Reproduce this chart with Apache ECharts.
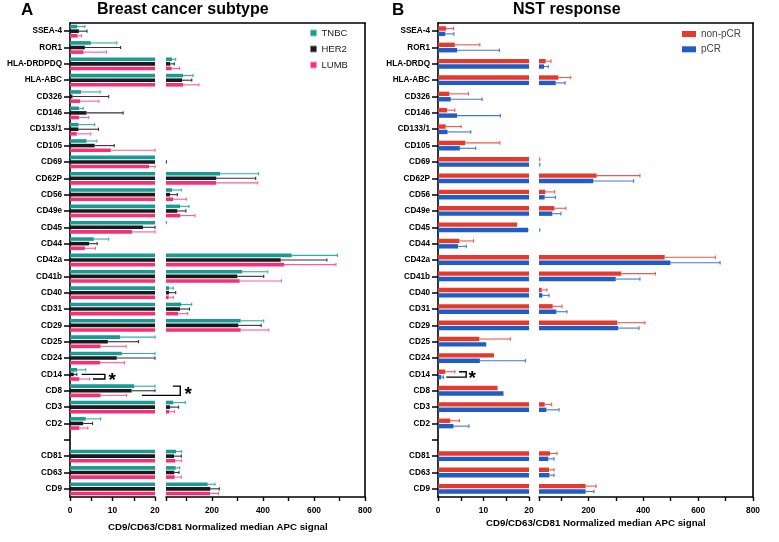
<!DOCTYPE html>
<html>
<head>
<meta charset="utf-8">
<script src="https://cdn.jsdelivr.net/npm/echarts@6/dist/echarts.min.js"></script>
<style>html,body{margin:0;padding:0;background:#fff}#c{width:779px;height:542px}</style>
</head>
<body>
<div id="c"></div>
<script>
// ---------------- data ----------------
var catsA = ['SSEA-4','ROR1','HLA-DRDPDQ','HLA-ABC','CD326','CD146','CD133/1','CD105','CD69','CD62P','CD56','CD49e','CD45','CD44','CD42a','CD41b','CD40','CD31','CD29','CD25','CD24','CD14','CD8','CD3','CD2','','CD81','CD63','CD9'];
var catsB = ['SSEA-4','ROR1','HLA-DRDQ','HLA-ABC','CD326','CD146','CD133/1','CD105','CD69','CD62P','CD56','CD49e','CD45','CD44','CD42a','CD41b','CD40','CD31','CD29','CD25','CD24','CD14','CD8','CD3','CD2','','CD81','CD63','CD9'];

var tnbcMean  = [1.65,4.9,43.5,86.6,2.6,2.1,2.0,3.9,20,231.7,43.5,74.9,20.3,5.6,512.6,318,31.8,78.8,312.7,11.8,12.2,1.7,15.1,48.7,3.7,null,59.2,58,183.4];
var tnbcUpper = [3.5,11.0,58,126,7.1,3.1,5.8,6.3,20,383,80,110,21.5,9.1,692,418.6,48.6,120.6,403,20,20,3.7,20,95.8,7.2,null,81.5,73.6,212];
var her2Mean  = [2.1,3.5,37,82.7,0.6,3.9,2.0,5.8,20.3,217,35.7,64.4,17.2,4.5,469.6,299.6,31.8,74.9,303.5,8.9,11.0,0.9,14.5,35.7,3.1,null,51.4,52.6,193.7];
var her2Upper = [4.0,11.9,52.6,121,9.1,12.5,6.7,10.4,21.5,371.5,64.4,98,20,6.4,650.6,403,58,112,393,16.1,20,1.6,20,69.5,5.3,null,80,71,229];
var lumbMean  = [1.8,3.2,42,86.6,2.4,2.1,1.6,9.6,18.6,216,47.4,76,14.6,3.5,482.6,308.8,30.5,67,312.7,7.2,7.1,2.2,7.2,31.8,2.2,null,56.5,54,192.5];
var lumbUpper = [2.7,8.6,73.6,149,6.8,4.4,4.9,20,20,379,99.7,133.7,20,6.0,686,472.6,48.6,105,422.6,13.2,12.8,4.6,13.3,53,4.2,null,81.5,80,226.5];

var nonpcrMean  = [1.8,3.7,44.4,90.6,2.5,2.0,1.7,6.0,20.3,230,43,76,17.4,4.7,478,320,29.8,70,305.6,9.1,12.3,1.6,13.1,40.8,2.7,null,60,56.5,190];
var nonpcrUpper = [3.4,9.2,63.8,135.6,6.7,3.7,5.1,13.6,23,388,77,118,17.4,7.8,663,444,49,104,406,15.9,12.3,3.7,13.1,66,4.7,null,85.6,74.7,227.8];
var pcrMean     = [1.6,4.2,38.2,81,2.8,4.2,2.1,4.8,20.3,218,40.8,68.6,19.8,4.4,499,299.6,32.3,83.3,309,10.6,9.2,0.7,14.4,47,3.4,null,54,58,190];
var pcrUpper    = [3.5,13.5,54,114.8,9.7,13.7,7.2,8.3,23,365,79.7,100,23,6.2,680,388,56.5,122,384.5,10.6,19.2,1.2,14.4,93,6.8,null,74.7,74.7,220.5];

var leftTicks = [0,5,10,15,20];
var leftLabels = [0,10,20];
var rightTicks = [20,100,200,300,400,500,600,700,800];
var rightLabels = [200,400,600,800];

// significance brackets: [topStart, right, bottomStart, catIndex, topRow, bottomRow, starX]
var bracketsA = [[2.75,8.2,5.4,21,1,2,9.9],[24.2,25.95,16.9,22,0,2,27.8]];
var bracketsB = [[4.6,6.2,1.8,21,0,1,7.5]];

// ---------------- styling ----------------
var FONT = 'Liberation Sans, Arial, Helvetica, sans-serif';
var colA = ['#1a9a94','#1a1a1a','#f72f78'];
var errColA = ['#2bb0a9','#333333','#ff5c95'];
var colB = ['#e33a2c','#1f5cc6'];
var errColB = ['#ec5a4c','#3f78d6'];
var TOP = 23, HEIGHT = 474;
var bwA = 3.6, gapA = 1.0, bwB = 4.4, gapB = 1.0;

function offsets(n, w, g){
  var total = n*w + (n-1)*g, res=[];
  for (var i=0;i<n;i++) res.push(-total/2 + i*(w+g) + w/2);
  return res;
}
var offA = offsets(3,bwA,gapA), offB = offsets(2,bwB,gapB);

function errData(mean, upper){
  var d=[];
  for (var i=0;i<mean.length;i++) if (mean[i]!=null) d.push([mean[i], i, upper[i]]);
  return d;
}
function errRender(off, color, capH){
  return function(params, api){
    var v = api.value(0), c = api.value(1), hi = api.value(2);
    if (isNaN(v) || isNaN(hi) || hi <= v) return null;
    var p0 = api.coord([v, c]), p1 = api.coord([hi, c]);
    var cs = params.coordSys, xmin = cs.x, xmax = cs.x + cs.width;
    var y = p0[1] + off;
    var x0 = Math.max(p0[0], xmin), x1 = Math.min(p1[0], xmax);
    var st = {stroke: color, lineWidth: 1.1};
    var ch = [];
    if (x1 > x0) ch.push({type:'line', shape:{x1:x0,y1:y,x2:x1,y2:y}, style:st});
    if (p1[0] > xmin + 0.1 && p1[0] <= xmax) ch.push({type:'line', shape:{x1:p1[0],y1:y-capH/2,x2:p1[0],y2:y+capH/2}, style:st});
    return {type:'group', children: ch};
  };
}
function bracketRender(offs){
  return function(params, api){
    var xt = api.value(0), xr = api.value(1), xb = api.value(2), c = api.value(3);
    var rt = api.value(4), rb = api.value(5), xs = api.value(6);
    var pt = api.coord([xt, c]), pr = api.coord([xr, c]), pb = api.coord([xb, c]), ps = api.coord([xs, c]);
    var yt = pt[1] + offs[rt], yb = pt[1] + offs[rb];
    var st = {stroke:'#000', lineWidth:1.4, fill:null};
    return {type:'group', children:[
      {type:'polyline', shape:{points:[[pt[0],yt],[pr[0],yt],[pr[0],yb],[pb[0],yb]]}, style:st},
      {type:'text', x: ps[0], y: (yt+yb)/2 + 4, style:{text:'*', font:'bold 19px '+FONT, fill:'#000', align:'center', verticalAlign:'middle'}}
    ]};
  };
}

var grids = [
  {left:70, width:85, top:TOP, height:HEIGHT},     // 0 A left
  {left:166, width:199, top:TOP, height:HEIGHT},   // 1 A right
  {left:70, width:295, top:TOP, height:HEIGHT},    // 2 A frame
  {left:438, width:91, top:TOP, height:HEIGHT},    // 3 B left
  {left:539, width:214, top:TOP, height:HEIGHT},   // 4 B right
  {left:438, width:315, top:TOP, height:HEIGHT}    // 5 B frame
];
var axLine = {show:true, lineStyle:{color:'#000', width:1.6}};
var tickLabel = {color:'#000', fontFamily:FONT, fontWeight:'bold', fontSize:8.4, margin:10};
function leftX(gi){ return {type:'value', gridIndex:gi, min:0, max:20, axisLine:axLine,
  axisTick:{show:true, length:4, lineStyle:{color:'#000', width:1.4}, customValues:leftTicks},
  axisLabel:Object.assign({customValues:leftLabels}, tickLabel), splitLine:{show:false}}; }
function rightX(gi){ return {type:'value', gridIndex:gi, min:20, max:800, axisLine:axLine,
  axisTick:{show:true, length:4, lineStyle:{color:'#000', width:1.4}, customValues:rightTicks},
  axisLabel:Object.assign({customValues:rightLabels}, tickLabel), splitLine:{show:false}}; }
function frameX(gi){ return {type:'value', gridIndex:gi, position:'top', min:0, max:1,
  axisLine:{show:true, onZero:false, lineStyle:{color:'#000', width:1.6}},
  axisTick:{show:false}, axisLabel:{show:false}, splitLine:{show:false}}; }
function catY(gi, cats, showAxis){ return {type:'category', gridIndex:gi, data:cats, inverse:true, show:showAxis,
  axisLine:axLine, axisTick:{show:true, length:6, alignWithLabel:true, lineStyle:{color:'#000', width:1.5}},
  axisLabel:{color:'#000', fontFamily:FONT, fontWeight:'bold', fontSize:8.2, margin:8, interval:0}}; }
function frameY(gi){ return {type:'value', gridIndex:gi, position:'right', min:0, max:1,
  axisLine:{show:true, onZero:false, lineStyle:{color:'#000', width:1.6}},
  axisTick:{show:false}, axisLabel:{show:false}, splitLine:{show:false}}; }

var xAxes = [leftX(0), rightX(1), frameX(2), leftX(3), rightX(4), frameX(5)];
var yAxes = [catY(0,catsA,true), catY(1,catsA,false), frameY(2), catY(3,catsB,true), catY(4,catsB,false), frameY(5)];

var series = [];
function addBars(name, mean, color, bw, gap, axL, axR){
  [axL, axR].forEach(function(ax){
    series.push({type:'bar', name:name, xAxisIndex:ax, yAxisIndex:ax, data:mean, barWidth:bw,
      barGap:(gap/bw*100)+'%', itemStyle:{color:color}, clip:true, silent:true});
  });
}
function addErr(mean, upper, errColor, off, axL, axR, capH){
  [axL, axR].forEach(function(ax){
    series.push({type:'custom', xAxisIndex:ax, yAxisIndex:ax, data:errData(mean, upper),
      encode:{x:[0,2], y:1}, renderItem:errRender(off, errColor, capH), silent:true, z:3});
  });
}
var groupsA = [['TNBC',tnbcMean,tnbcUpper],['HER2',her2Mean,her2Upper],['LUMB',lumbMean,lumbUpper]];
groupsA.forEach(function(g,i){ addBars(g[0], g[1], colA[i], bwA, gapA, 0, 1); });
var groupsB = [['non-pCR',nonpcrMean,nonpcrUpper],['pCR',pcrMean,pcrUpper]];
groupsB.forEach(function(g,i){ addBars(g[0], g[1], colB[i], bwB, gapB, 3, 4); });
groupsA.forEach(function(g,i){ addErr(g[1], g[2], errColA[i], offA[i], 0, 1, 3.2); });
groupsB.forEach(function(g,i){ addErr(g[1], g[2], errColB[i], offB[i], 3, 4, 3.6); });
series.push({type:'custom', xAxisIndex:0, yAxisIndex:0, data:bracketsA, encode:{x:[0,1,2], y:3},
  renderItem:bracketRender(offA), silent:true, z:5});
series.push({type:'custom', xAxisIndex:3, yAxisIndex:3, data:bracketsB, encode:{x:[0,1,2], y:3},
  renderItem:bracketRender(offB), silent:true, z:5});
// empty series so the frame axes (top and right border) are drawn
series.push({type:'line', xAxisIndex:2, yAxisIndex:2, data:[], silent:true});
series.push({type:'line', xAxisIndex:5, yAxisIndex:5, data:[], silent:true});

function ttl(text, left, top, size, weight){
  return {text:text, left:left, top:top, padding:0,
    textStyle:{fontFamily:FONT, fontSize:size, fontWeight:weight||'bold', color:'#000'}};
}
var xTitle = 'CD9/CD63/CD81 Normalized median APC signal';

var option = {
  animation:false,
  backgroundColor:'#fff',
  title:[
    ttl('A', 21, 2, 17), ttl('Breast cancer subtype', 97, 2, 16),
    ttl('B', 392, 2, 17), ttl('NST response', 513, 2, 16),
    ttl(xTitle, 108, 522, 9.7), ttl(xTitle, 486, 518, 9.7)
  ],
  legend:[
    {orient:'vertical', left:310, top:27, padding:0, itemWidth:6, itemHeight:6, itemGap:4, icon:'rect',
     textStyle:{fontFamily:FONT, fontSize:9.5, lineHeight:12, color:'#222'},
     data:[{name:'TNBC', itemStyle:{borderColor:'#7fd0cb', borderWidth:1}},
           {name:'HER2', itemStyle:{borderColor:'#888', borderWidth:1}},
           {name:'LUMB', itemStyle:{borderColor:'#ff9fc2', borderWidth:1}}]},
    {orient:'vertical', left:682, top:28, padding:0, itemWidth:14, itemHeight:6, itemGap:3.3, icon:'rect',
     textStyle:{fontFamily:FONT, fontSize:10, lineHeight:12, color:'#444'},
     data:['non-pCR','pCR']}
  ],
  grid:grids,
  xAxis:xAxes,
  yAxis:yAxes,
  series:series
};
var chart = echarts.init(document.getElementById('c'), null, {renderer:'canvas'});
chart.setOption(option);
</script>
</body>
</html>
